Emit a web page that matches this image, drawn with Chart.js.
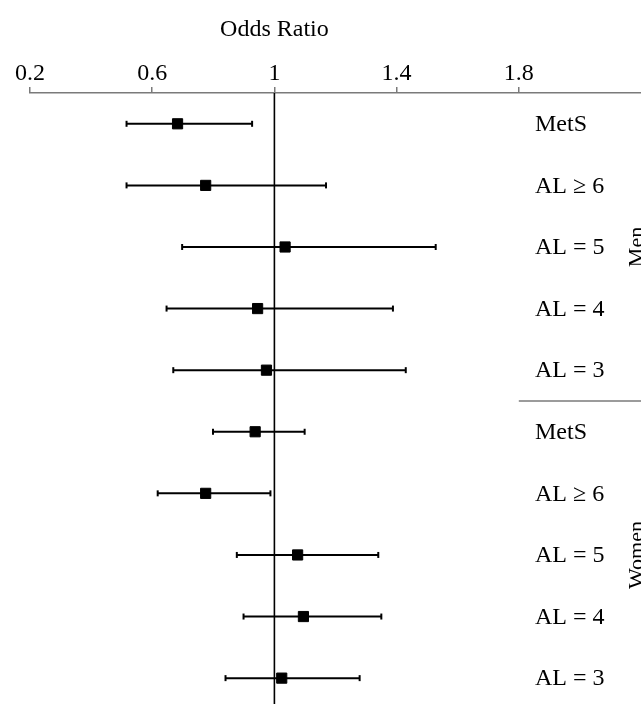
<!DOCTYPE html>
<html>
<head>
<meta charset="utf-8">
<script src="https://cdn.jsdelivr.net/npm/chart.js@4.4.1/dist/chart.umd.min.js"></script>
<style>
  body { margin: 0; background: #fff; }
  canvas { display: block; }
</style>
</head>
<body>
<canvas id="forest_chart" width="641" height="704"></canvas>
<script>
// rows, top to bottom
const rowLabels = ['MetS', 'AL \u2265 6', 'AL = 5', 'AL = 4', 'AL = 3',
                   'MetS', 'AL \u2265 6', 'AL = 5', 'AL = 4', 'AL = 3']
const groupNames = ['Men', 'Women']
const groupCenterRow = [2, 7]

// odds ratios with 95% CI
const oddsRatio = [0.683, 0.775, 1.035, 0.945, 0.974, 0.937, 0.775, 1.076, 1.095, 1.024]
const ciLow     = [0.516, 0.516, 0.698, 0.647, 0.669, 0.799, 0.618, 0.877, 0.899, 0.840]
const ciHigh    = [0.927, 1.169, 1.528, 1.388, 1.430, 1.099, 0.987, 1.340, 1.350, 1.279]

const tickValues = [0.2, 0.6, 1, 1.4, 1.8]
const refValue = 1

const FONT = "'Liberation Serif', 'Times New Roman', serif"

const squares = {
    data: oddsRatio.map((v, i) => ({ x: v, y: i })),
    pointStyle: 'rect',
    pointRadius: 7.2,
    pointBorderWidth: 1,
    backgroundColor: '#000',
    borderColor: '#000',
    showLine: false,
    order: 0
}

// one line per row, caps are the end points drawn as vertical ticks
const ciLines = rowLabels.map((_, i) => ({
    data: [{ x: ciLow[i], y: i }, { x: ciHigh[i], y: i }],
    showLine: true,
    borderColor: '#000',
    borderWidth: 2,
    pointStyle: 'line',
    rotation: 90,
    pointRadius: 3,
    pointBorderWidth: 2,
    pointBorderColor: '#000',
    order: 1
}))

const refLine = {
    data: [{ x: refValue, y: -0.5 }, { x: refValue, y: 9.42 }],
    showLine: true,
    borderColor: '#000',
    borderWidth: 1.6,
    pointRadius: 0,
    order: 2
}

// right-hand labels, group names, separator and axis title
const labelPlugin = {
    id: 'labels',
    afterDraw(chart) {
        const ctx = chart.ctx
        const xs = chart.scales.x
        const ys = chart.scales.y
        ctx.save()
        ctx.fillStyle = '#000'
        ctx.font = '24px ' + FONT
        ctx.textAlign = 'left'
        ctx.textBaseline = 'middle'
        rowLabels.forEach((lab, i) => {
            ctx.fillText(lab, 535, ys.getPixelForValue(i) + 1)
        })

        // axis title
        ctx.textAlign = 'center'
        ctx.fillText('Odds Ratio', xs.getPixelForValue(refValue), 30)

        // separator between groups
        const sepY = ys.getPixelForValue(4.5)
        ctx.strokeStyle = '#7a7a7a'
        ctx.lineWidth = 1.5
        ctx.beginPath()
        ctx.moveTo(xs.getPixelForValue(1.8), sepY)
        ctx.lineTo(chart.width, sepY)
        ctx.stroke()

        // rotated group names
        ctx.font = '22px ' + FONT
        ctx.textBaseline = 'alphabetic'
        groupNames.forEach((g, k) => {
            ctx.save()
            ctx.translate(643, ys.getPixelForValue(groupCenterRow[k]))
            ctx.rotate(-Math.PI / 2)
            ctx.fillText(g, 0, 0)
            ctx.restore()
        })
        ctx.restore()
    }
}

const ctx = document.getElementById('forest_chart').getContext('2d')
new Chart(ctx, {
    type: 'scatter',
    data: { datasets: [squares, ...ciLines, refLine] },
    options: {
        responsive: false,
        animation: false,
        layout: { autoPadding: false, padding: { left: 30, right: 0, top: 0, bottom: 0 } },
        plugins: {
            legend: { display: false },
            tooltip: { enabled: false }
        },
        scales: {
            x: {
                type: 'linear',
                position: 'top',
                min: 0.2,
                max: 2.2,
                afterBuildTicks: s => { s.ticks = tickValues.map(v => ({ value: v })) },
                afterFit: s => { s.height = 93 },
                ticks: {
                    color: '#000',
                    padding: 0,
                    maxRotation: 0,
                    autoSkip: false,
                    font: { family: FONT, size: 24, lineHeight: 1.1 },
                    callback: v => String(v)
                },
                grid: {
                    drawOnChartArea: false,
                    drawTicks: true,
                    tickLength: 6,
                    color: '#7a7a7a',
                    lineWidth: 1.5
                },
                border: { display: true, color: '#7a7a7a', width: 1.5 }
            },
            y: {
                type: 'linear',
                display: false,
                reverse: true,
                min: -0.5,
                max: 9.42
            }
        }
    },
    plugins: [labelPlugin]
})
</script>
</body>
</html>
